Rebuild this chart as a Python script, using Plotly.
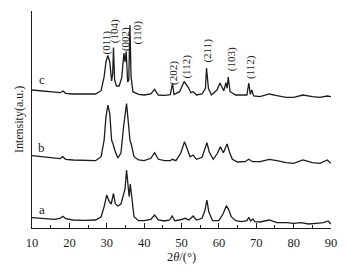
import plotly.graph_objects as go

# ---- data (2theta in degrees, intensity in arbitrary units) ----
x_a = [10, 12, 14, 16, 17.5, 18.3, 19, 21, 24, 27, 28.5, 29.3, 30.0, 30.6, 31.2, 31.8, 32.3,
       33.0, 33.8, 34.5, 34.9, 35.3, 35.8, 36.0, 36.3, 36.7, 37.3, 38.5, 40, 41.8, 42.8, 43.8,
       45.5, 46.8, 47.5, 48.2, 49.5, 51, 52, 53.1, 54, 55.5, 56.3, 56.8, 57.3, 58.3, 60, 61.2,
       62.0, 62.6, 63.3, 64.5, 66, 67.5, 68.0, 68.5, 69.1, 69.6, 71, 73.5, 75.5, 78, 80, 82,
       84, 86, 88, 89.2, 90]
y_a = [10.3, 9.7, 9.3, 8.7, 9.7, 11.7, 9.3, 8.0, 7.7, 8.0, 11.3, 21.3, 33.0, 27.0, 24.0, 34.5, 24.0,
       22.0, 24.0, 34.0, 39.0, 58.0, 41.3, 31.3, 44.0, 28.0, 11.3, 7.3, 7.3, 8.7, 13.0, 8.0,
       7.0, 8.0, 12.0, 7.3, 8.0, 9.7, 8.0, 12.0, 8.0, 9.7, 18.0, 28.0, 16.3, 7.3, 7.3, 14.7,
       22.3, 18.7, 11.3, 7.3, 6.3, 7.3, 10.7, 7.0, 9.0, 6.3, 6.0, 8.0, 5.3, 5.3, 4.7, 5.3,
       4.0, 4.7, 5.3, 7.0, 4.0]

x_b = [10, 12, 14, 16, 17.5, 18.2, 19, 21, 24, 27, 28.5, 29.3, 29.8, 30.3, 30.8, 31.3, 31.7,
       32.3, 33.0, 33.8, 34.5, 35.0, 35.3, 35.8, 36.2, 36.6, 37.3, 38.5, 40, 41.8, 42.8, 43.8,
       45.5, 47, 47.5, 48.5, 49.8, 50.8, 51.5, 52.3, 53.1, 54, 55.5, 56.3, 56.8, 57.4, 58.5,
       59.6, 60.4, 61.2, 62.2, 62.8, 63.6, 65, 67, 68, 69, 71, 73.5, 75.5, 78, 80, 82.5,
       85, 87, 89, 90]
y_b = [72.3, 71.3, 70.7, 70.0, 69.3, 71.3, 68.7, 68.0, 67.3, 67.3, 71.3, 88.0, 111.3, 123.0, 114.7, 88.0, 84.0,
       76.0, 70.0, 75.0, 101.3, 118.0, 124.5, 104.7, 88.0, 83.0, 71.3, 68.0, 67.3, 69.7, 75.3, 68.7,
       67.3, 67.3, 68.7, 67.3, 74.7, 86.3, 79.7, 71.3, 73.0, 68.7, 70.7, 79.7, 85.3, 76.3, 68.7,
       74.7, 81.3, 75.3, 84.0, 76.3, 68.7, 66.0, 66.3, 68.7, 66.3, 66.3, 68.7, 67.3, 65.3, 64.7, 68.0,
       65.3, 64.7, 68.0, 64.7]

x_c = [10, 12, 14, 16, 17.5, 18.3, 19, 21, 24, 27, 28.5, 29.3, 29.8, 30.3, 30.8, 31.3, 31.6,
       31.8, 32.1, 32.6, 33.3, 34.0, 34.6, 34.9, 35.2, 35.6, 35.9, 36.2, 36.5, 37, 38.5, 40,
       41.8, 42.8, 43.8, 45.5, 47, 47.6, 48, 49.5, 50.7, 51.8, 52.5, 53.1, 54, 55.5, 56.4,
       56.7, 57.2, 58, 59.5, 60.3, 61.3, 61.9, 62.2, 62.5, 63.0, 64.5, 66, 67.5, 68.0, 68.4,
       68.8, 69.3, 71, 73.5, 75.5, 78, 80, 82.5, 85, 87, 89, 90]
y_c = [138.0, 137.3, 136.7, 136.0, 135.3, 137.0, 134.7, 134.0, 133.7, 134.0, 137.3, 151.3, 166.3, 172.5, 166.3, 147.0, 154.7,
       180.5, 148.0, 142.0, 142.0, 150.0, 175.0, 166.0, 176.5, 146.0, 148.0, 203.0, 151.3, 136.3, 133.7, 133.0,
       134.0, 138.7, 133.0, 132.7, 133.3, 144.7, 133.5, 136.3, 146.5, 140.7, 135.3, 136.3, 133.0, 134.0, 139.7,
       160.0, 139.7, 133.0, 138.0, 145.0, 137.3, 145.3, 139.7, 151.0, 136.3, 133.0, 133.0, 133.0, 145.0, 133.7,
       138.0, 132.0, 131.3, 134.0, 132.3, 130.7, 130.7, 133.0, 131.3, 130.7, 132.0, 131.3]

curve_names = ["a", "b", "c"]
curve_label_pos = [(12.6, 19), (12.6, 81), (12.8, 149)]

peak_labels = ["(011)", "(104)", "(002)", "(110)", "(202)", "(112)", "(211)", "(103)", "(112)"]
peak_label_x = [29.9, 32.0, 34.9, 38.2, 47.7, 51.1, 56.7, 63.3, 68.3]
peak_label_y = [186, 197, 189, 196, 155, 161, 177, 169, 161]

x_ticks = [10, 20, 30, 40, 50, 60, 70, 80, 90]

FONT = "Liberation Serif"
INK = "#1c1c1c"

fig = go.Figure()
for xs, ys in [(x_a, y_a), (x_b, y_b), (x_c, y_c)]:
    fig.add_trace(go.Scatter(x=xs, y=ys, mode="lines",
                             line=dict(color=INK, width=1.3),
                             showlegend=False, hoverinfo="skip"))

for name, (lx, ly) in zip(curve_names, curve_label_pos):
    fig.add_annotation(x=lx, y=ly, text=name, showarrow=False,
                       font=dict(family=FONT, size=13, color=INK))

for t, lx, ly in zip(peak_labels, peak_label_x, peak_label_y):
    fig.add_annotation(x=lx, y=ly, text=t, showarrow=False, textangle=-90,
                       font=dict(family=FONT, size=11, color=INK))

fig.add_annotation(xref="paper", yref="paper", x=-0.045, y=0.5,
                   xanchor="center", yanchor="middle",
                   text="Intensity(a.u.)", textangle=-90, showarrow=False,
                   font=dict(family=FONT, size=12, color=INK))

fig.update_layout(
    width=348, height=273,
    margin=dict(l=32, r=14, t=11, b=45),
    paper_bgcolor="white", plot_bgcolor="white",
    font=dict(family=FONT, size=12, color=INK),
    xaxis=dict(range=[10, 90], tickvals=x_ticks, ticks="inside", ticklen=5,
               tickwidth=1, tickcolor=INK, showline=True, linecolor=INK, linewidth=1.2,
               showgrid=False, zeroline=False, ticklabeloverflow="allow",
               ticklabelstandoff=3,
               minor=dict(dtick=5, tick0=10, ticks="inside", ticklen=3, tickcolor=INK),
               tickfont=dict(family=FONT, size=12.5, color=INK),
               title=dict(text="2<i>θ</i>/(°)", font=dict(family=FONT, size=12.5, color=INK),
                          standoff=1)),
    yaxis=dict(range=[0, 217], tickvals=[217], ticks="inside", ticklen=7,
               tickcolor=INK, showticklabels=False, showline=True, linecolor=INK,
               linewidth=1.2, showgrid=False, zeroline=False),
)

fig.write_html("out.html", config={"displayModeBar": False},
               post_script="document.body.style.margin='0';")
